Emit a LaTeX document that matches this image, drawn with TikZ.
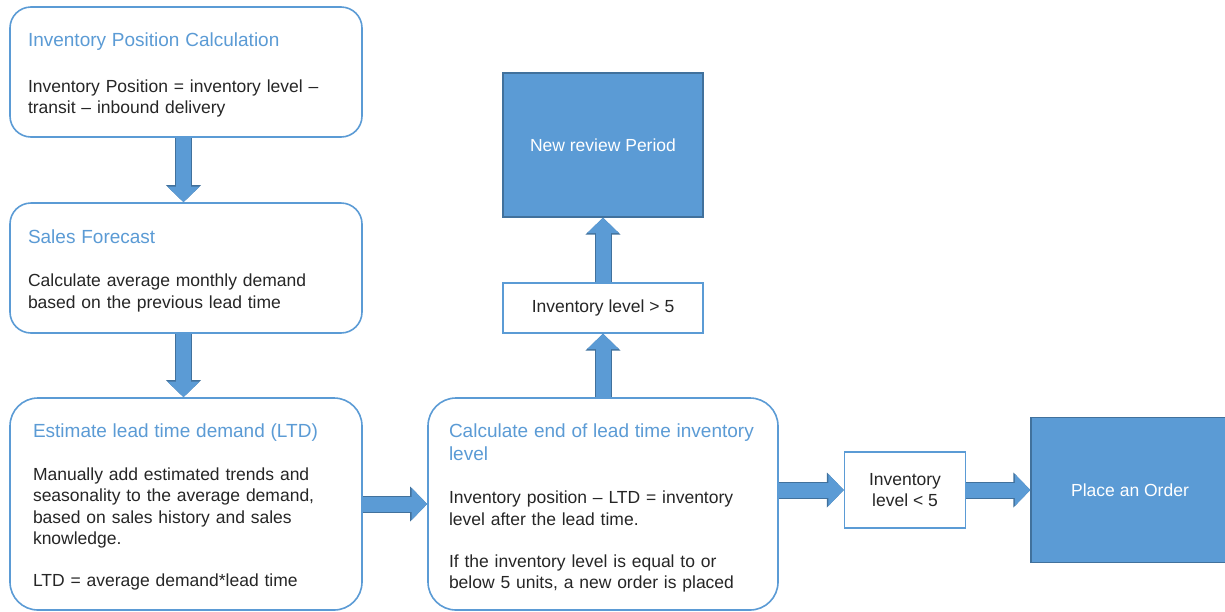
\documentclass[tikz,border=0pt]{standalone}
\usepackage{fontspec}
\setmainfont{Liberation Sans}
\usetikzlibrary{arrows.meta}
\definecolor{office}{HTML}{5B9BD5}
\definecolor{officedark}{HTML}{41719C}
\definecolor{ink}{HTML}{262626}
\newcommand{\cardhead}{\fontsize{19}{23}\selectfont\color{office}}
\newcommand{\cardbody}{\fontsize{17.5}{21.5}\selectfont}
\newcommand{\cardtop}{\mbox{}\\[-1.5pt]}
\tikzset{card/.style={draw=office, line width=1.6pt, rounded corners=21pt,
   fill=white, align=left, inner sep=0pt, font=\cardbody, text=ink},
 cond/.style={draw=office, line width=1.3pt, fill=white, align=center,
   inner sep=0pt, font=\cardbody, text=ink},
 action/.style={draw=officedark, line width=1.3pt, fill=office, align=center,
   inner sep=0pt, font=\cardbody, text=white},
 bigarrow/.style={draw=office, line width=15pt, -{Triangle[length=15.5pt,width=31pt]},
   preaction={draw=officedark, line width=17pt, -{Triangle[length=17pt,width=34pt]}}},
 }

\begin{document}
\begin{tikzpicture}[x=1pt,y=-1pt]
        \useasboundingbox (0,0) rectangle (1225,611);
        \node[card, minimum width=352pt, minimum height=130pt, text width=316pt] (ipc) at (186,72)
            {\cardtop{\cardhead Inventory Position Calculation}\\[24pt]
             Inventory Position = inventory level --\\transit -- inbound delivery};
        \node[card, minimum width=352pt, minimum height=130pt, text width=316pt] (fcst) at (186,268)
            {\cardtop{\cardhead Sales Forecast}\\[21.5pt]
             Calculate average monthly demand\\based on the previous lead time};
        \node[card, rounded corners=28pt, minimum width=352pt, minimum height=212pt, text width=306pt] (ltd) at (186,504)
            {\cardtop{\cardhead Estimate lead time demand (LTD)}\\[21.5pt]
             Manually add estimated trends and\\seasonality to the average demand,\\
             based on sales history and sales\\knowledge.\\[20.5pt]
             LTD = average demand*lead time};
        \node[card, rounded corners=28pt, minimum width=350pt, minimum height=212pt, text width=308pt] (endlvl) at (603,504)
            {\cardtop{\cardhead Calculate end of lead time inventory\\[1.5pt]level}\\[22pt]
             Inventory position -- LTD = inventory\\level after the lead time.\\[20.5pt]
             If the inventory level is equal to or\\below 5 units, a new order is placed};
        \node[cond, minimum width=200pt, minimum height=50pt] (above) at (603,308) {Inventory level > 5};
        \node[action, minimum width=200pt, minimum height=144pt] (review) at (603,145) {New review Period};
        \node[cond, minimum width=121pt, minimum height=76pt] (below) at (905,490) {Inventory\\level < 5};
        \node[action, minimum width=198pt, minimum height=145pt] (order) at (1130,490) {Place an Order};
        \draw[bigarrow] ([xshift=-2.5pt]ipc.south) -- ([xshift=-2.5pt]fcst.north);
        \draw[bigarrow] ([xshift=-2.5pt]fcst.south) -- ([xshift=-2.5pt]ltd.north);
        \draw[bigarrow] (ltd) -- (endlvl);
        \draw[bigarrow] (endlvl) -- (above);
        \draw[bigarrow] (above) -- (review);
        \draw[bigarrow] (endlvl.east |- below) -- (below);
        \draw[bigarrow] (below) -- (order);
    \end{tikzpicture}
\end{document}
